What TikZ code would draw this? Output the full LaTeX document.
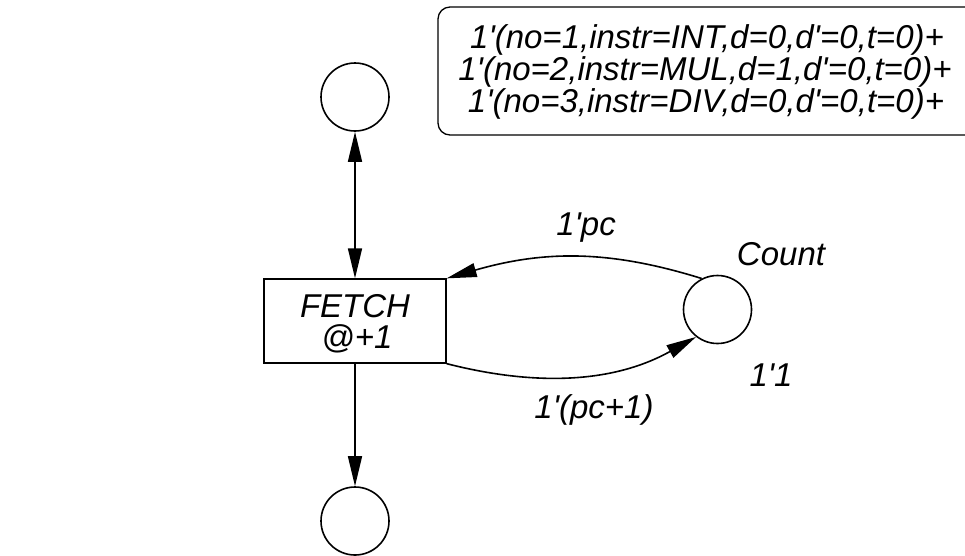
\documentclass[tikz,border=0pt]{standalone}
\usepackage{fontspec}
\setmainfont{Liberation Sans}[Ligatures=TeXOff]
\usetikzlibrary{arrows.meta}
\begin{document}
\begin{tikzpicture}[x=1pt,y=-1pt,
  place/.style={draw,circle,line width=1.6pt,minimum size=68pt,inner sep=0pt},
  trans/.style={draw,rectangle,line width=1.3pt,minimum width=182pt,minimum height=84pt,inner sep=0pt},
  lbl/.style={font=\fontsize{33}{31}\selectfont\itshape,inner sep=0pt},
  arc/.style={line width=1.6pt,-{Triangle[length=30pt,width=14pt]}},
  biarc/.style={line width=1.6pt,{Triangle[length=30pt,width=14pt]}-{Triangle[length=30pt,width=14pt]}}]
\clip (0,0) rectangle (965,555);
\path[use as bounding box] (0,0) rectangle (965,555);

% places and the transition
\node[place] (top) at (355,97) {};
\node[place] (bot) at (355,521) {};
\node[place] (count) at (717.5,309.5) {};
\node[trans] (fetch) at (355,321) {};
\node[lbl,anchor=base] (fetchname) at (355,317) {FETCH};
\node[lbl,anchor=base] (fetchtime) at (357,348) {@+1};

% initial marking box
\draw[line width=1.3pt,rounded corners=12pt] (438,7) rectangle (1000,135);
\node[lbl,anchor=base] (mark1) at (707,48) {1'(no=1,instr=INT,d=0,d'=0,t=0)+};
\node[lbl,anchor=base] (mark2) at (705,80) {1'(no=2,instr=MUL,d=1,d'=0,t=0)+};
\node[lbl,anchor=base] (mark3) at (706,112) {1'(no=3,instr=DIV,d=0,d'=0,t=0)+};

% arcs
\draw[biarc] (fetch.north) -- (top.south);
\draw[arc] (fetch.south) -- (bot.north);
\draw[arc] (count.117) .. controls (610,250) and (545,250) .. (fetch.north east);
\draw[arc] (fetch.south east) .. controls (530,385) and (610,385) .. (count.232);

% labels
\node[lbl] (lpc) at (586,228) {1'pc};
\node[lbl,anchor=base] (lcount) at (781,265) {Count};
\node[lbl,anchor=base] (linit) at (771,386) {1'1};
\node[lbl] (lpc1) at (594,410) {1'(pc+1)};
\end{tikzpicture}
\end{document}
